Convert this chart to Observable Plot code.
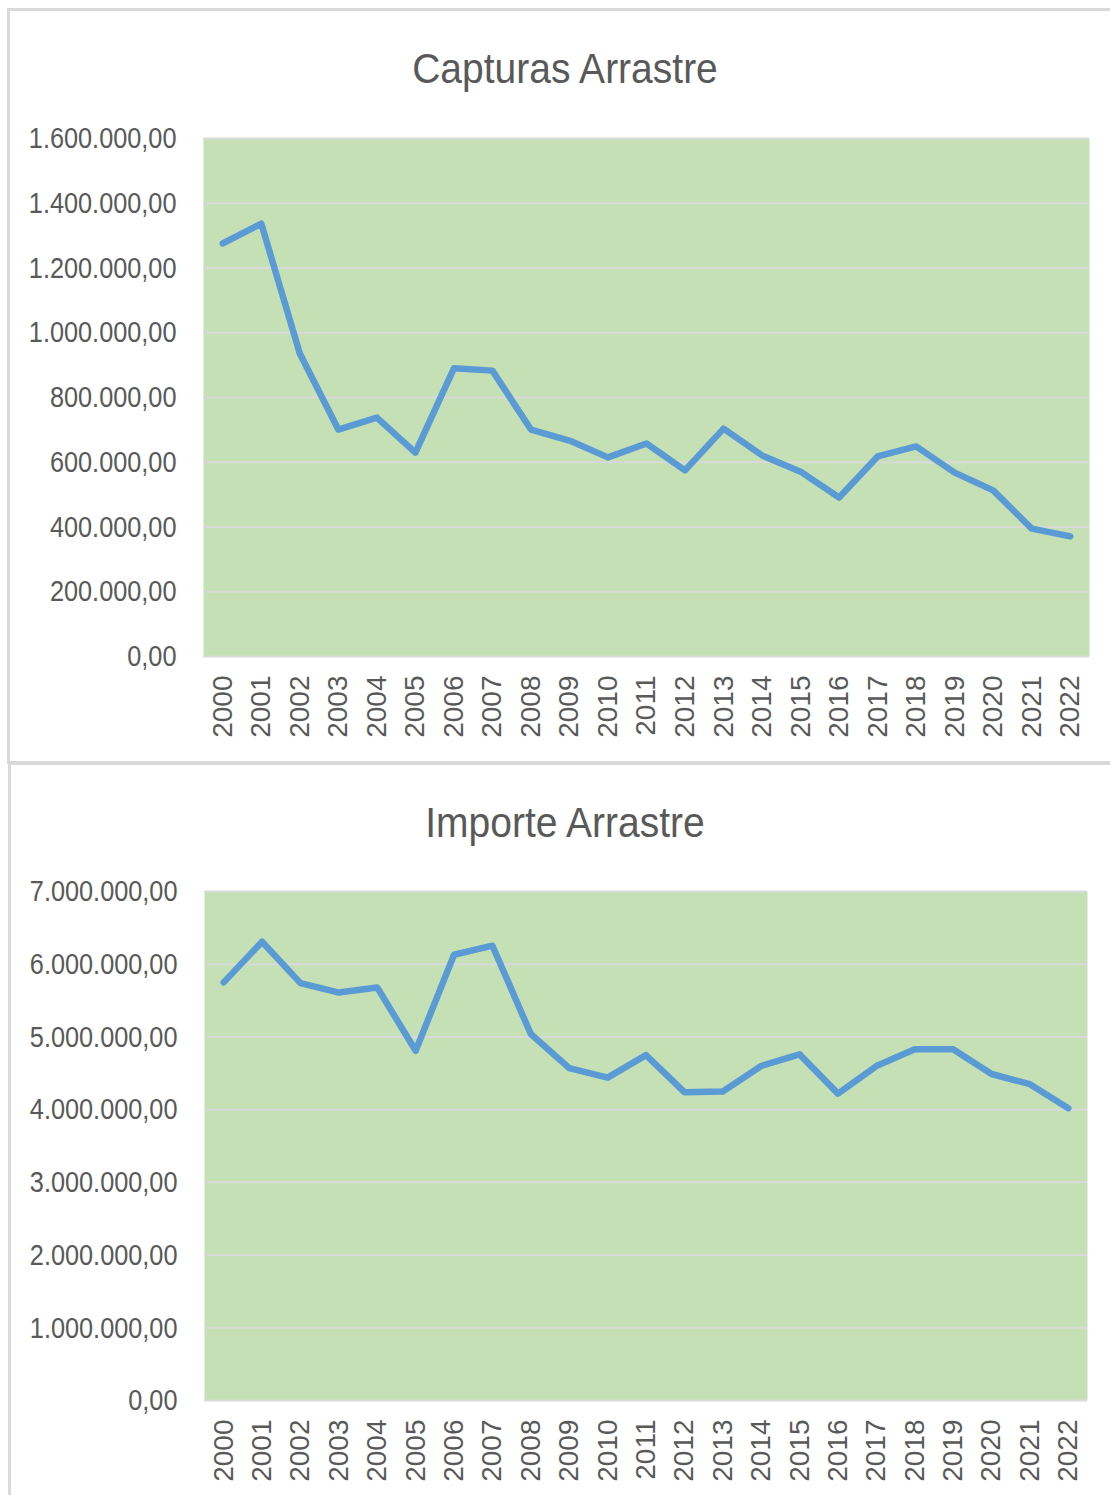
<!DOCTYPE html>
<html>
<head>
<meta charset="utf-8">
<script src="https://cdn.jsdelivr.net/npm/d3@7"></script>
<script src="https://cdn.jsdelivr.net/npm/@observablehq/plot@0.6"></script>
<style>
  html, body { margin: 0; padding: 0; background: #fff; }
  body { position: relative; width: 1110px; height: 1495px; overflow: hidden; }
  .box { position: absolute; border: 3px solid #d9d9d9; box-sizing: border-box; background: #fff; }
  .title { position: absolute; left: 7px; width: 1116px; text-align: center;
    font-family: "Liberation Sans", sans-serif; font-size: 39px;
    line-height: 39px; color: #595959; z-index: 2;
    transform: scaleY(1.1); transform-origin: 50% 33px; }
  .chart { position: absolute; left: 0; z-index: 1; }
</style>
</head>
<body>
<div class="box" style="left:7px; top:8px; width:1116px; height:756px;"></div>
<div class="box" style="left:8px; top:762px; width:1116px; height:760px;"></div>
<div class="title" style="top:50px;">Capturas Arrastre</div>
<div class="title" style="top:804px;">Importe Arrastre</div>
<div id="c1" class="chart" style="top:0px;"></div>
<div id="c2" class="chart" style="top:765px;"></div>
<script>
const years = ["2000","2001","2002","2003","2004","2005","2006","2007","2008","2009","2010","2011",
  "2012","2013","2014","2015","2016","2017","2018","2019","2020","2021","2022"];

const capturas = [1276000, 1337000, 936000, 701000, 738000, 630000, 890000, 883000, 701000, 667000,
  615000, 658000, 575000, 704000, 621000, 571000, 491000, 618000, 649000, 568000, 513000, 395000, 371000];

const importe = [5750000, 6310000, 5740000, 5610000, 5680000, 4810000, 6130000, 6255000, 5040000, 4570000,
  4440000, 4750000, 4240000, 4250000, 4600000, 4760000, 4220000, 4600000, 4830000, 4830000, 4490000, 4350000, 4020000];

const capturasTicks = [0, 200000, 400000, 600000, 800000, 1000000, 1200000, 1400000, 1600000];
const importeTicks = [0, 1000000, 2000000, 3000000, 4000000, 5000000, 6000000, 7000000];

const esLocale = d3.formatLocale({decimal: ",", thousands: ".", grouping: [3], currency: ["", " €"]});
const fmt = esLocale.format(",.2f");

function chart(values, ticks, m) {
  const data = years.map((y, i) => ({year: y, value: values[i]}));
  const svg = Plot.plot({
    width: 1110,
    height: m.height,
    marginLeft: m.left,
    marginRight: m.right,
    marginTop: m.top,
    marginBottom: m.bottom,
    style: {background: "transparent", overflow: "visible"},
    x: {type: "point", domain: years, padding: 0.5, round: false},
    y: {domain: [0, d3.max(ticks)]},
    marks: [
      Plot.frame({fill: "#c5e0b4", stroke: "none"}),
      Plot.gridY(ticks, {stroke: "#d9d9d9", strokeOpacity: 1, strokeWidth: 2}),
      Plot.axisY(ticks, {tickSize: 0, tickPadding: 27, tickFormat: fmt, label: null,
        fontSize: 25.3, fontFamily: "'Liberation Sans', sans-serif", fill: "#595959",
        className: "yax"}),
      Plot.axisX({tickSize: 0, tickRotate: -90, tickPadding: 19, label: null,
        fontSize: 28, fontFamily: "'Liberation Sans', sans-serif", fill: "#595959"}),
      Plot.line(data, {x: "year", y: "value", stroke: "#5b9bd5", strokeWidth: 6.5,
        strokeLinejoin: "round", strokeLinecap: "round"})
    ]
  });
  // stretch y tick labels vertically to match the reference's taller glyphs
  svg.querySelectorAll("g[aria-label='y-axis tick label'] text").forEach(t => {
    const tr = t.getAttribute("transform") || "";
    t.setAttribute("transform", tr + " scale(1,1.2)");
  });
  return svg;
}

document.getElementById("c1").append(chart(capturas, capturasTicks,
  {height: 762, left: 203, right: 21, top: 138, bottom: 106}));
document.getElementById("c2").append(chart(importe, importeTicks,
  {height: 730, left: 204, right: 23, top: 126, bottom: 95}));
</script>
</body>
</html>
